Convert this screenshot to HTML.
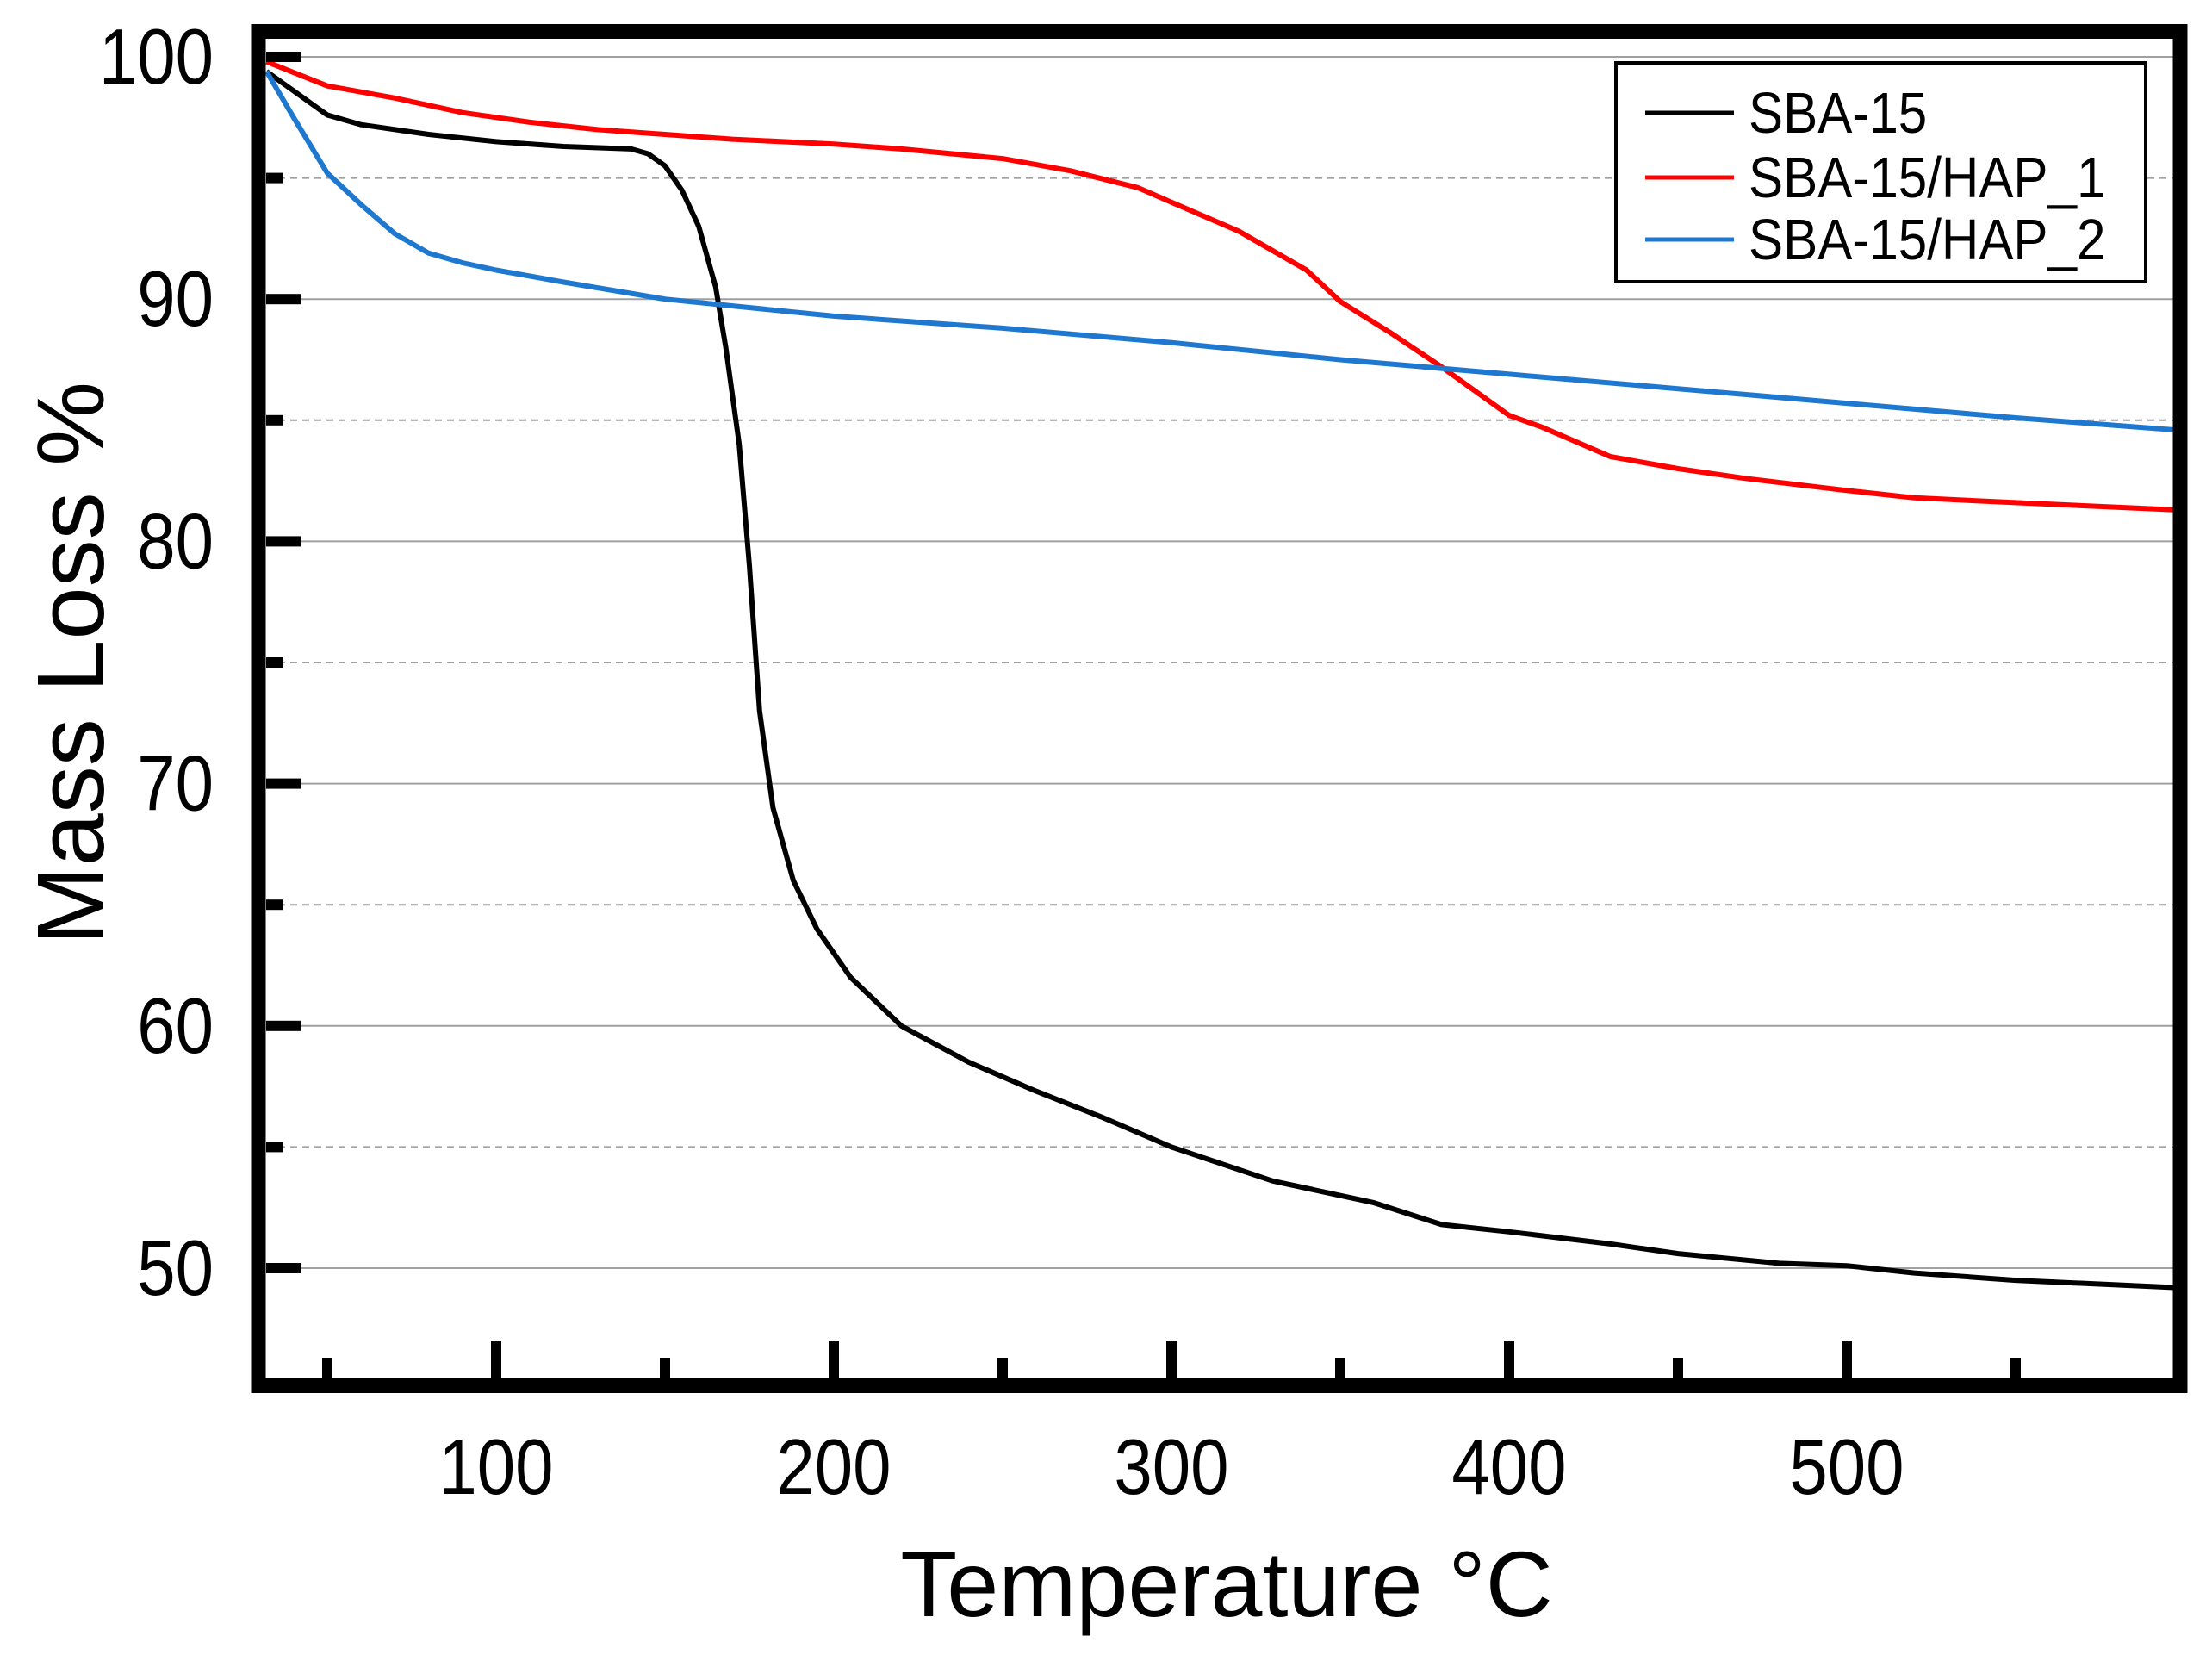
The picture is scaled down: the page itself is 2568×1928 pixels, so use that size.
<!DOCTYPE html>
<html><head><meta charset="utf-8"><style>
html,body{margin:0;padding:0;background:#fff;}
svg{display:block;font-family:"Liberation Sans",Arial,sans-serif;}
</style></head><body>
<svg id="chart" width="2568" height="1928" viewBox="0 0 2568 1928" xmlns="http://www.w3.org/2000/svg">
<g id="grid"></g>
<g id="series"></g>
<g id="axes"></g>
<g id="legend"></g>
</svg>
<script>
const xTicksMajor = [100, 200, 300, 400, 500];
const xTicksMinor = [50, 150, 250, 350, 450, 550];
const yTicksMajor = [50, 60, 70, 80, 90, 100];
const yTicksMinor = [55, 65, 75, 85, 95];
const seriesNames = ["SBA-15", "SBA-15/HAP_1", "SBA-15/HAP_2"];
const seriesColors = ["#000000", "#ff0000", "#1f78d0"];
const sbaT = [32,40,50,60,80,100,120,140,145,150,155,160,165,168,172,175,178,182,188,195,205,220,240,260,280,300,330,360,380,400,430,450,480,500,520,550,597];
const sbaV = [99.4,98.6,97.6,97.2,96.8,96.5,96.3,96.2,96.0,95.5,94.5,93,90.5,88,84,79,73,69,66,64,62,60,58.5,57.3,56.2,55,53.6,52.7,51.8,51.5,51,50.6,50.2,50.1,49.8,49.5,49.2];
const hap1T = [32,50,70,90,110,130,150,170,200,220,250,270,290,300,320,340,350,365,380,400,410,430,450,470,500,520,550,597];
const hap1V = [99.8,98.8,98.3,97.7,97.3,97.0,96.8,96.6,96.4,96.2,95.8,95.3,94.6,94.0,92.8,91.2,89.9,88.6,87.2,85.2,84.7,83.5,83.0,82.6,82.1,81.8,81.6,81.3];
const hap2T = [32,40,50,60,70,80,90,100,120,150,200,250,300,350,400,450,500,550,597];
const hap2V = [99.4,97.5,95.2,93.9,92.7,91.9,91.5,91.2,90.7,90.0,89.3,88.8,88.2,87.5,86.9,86.3,85.7,85.1,84.6];

const NS = "http://www.w3.org/2000/svg";
const L = 309, R = 2523, T = 45, B = 1600;
function xs(t){ return 184 + t * 3.92; }
function ys(v){ return 66 + (100 - v) * 28.12; }
function mk(tag, attrs, parent){ const e = document.createElementNS(NS, tag); for (const k in attrs) e.setAttribute(k, attrs[k]); parent.appendChild(e); return e; }

const grid = document.getElementById('grid');
yTicksMajor.forEach(v => {
  const l = mk('line', {x1:L, x2:R, y1:ys(v), y2:ys(v), stroke:'#a0a0a0', 'stroke-width':2}, grid);
  
  
});
yTicksMinor.forEach(v => {
  const l = mk('line', {x1:L, x2:R, y1:ys(v), y2:ys(v), stroke:'#a0a0a0', 'stroke-width':2, 'stroke-dasharray':'8 6'}, grid);
  
  
});

const sg = document.getElementById('series');
const allT = [sbaT, hap1T, hap2T], allV = [sbaV, hap1V, hap2V];
allT.forEach((ts, i) => {
  const d = ts.map((t, j) => (j ? 'L' : 'M') + xs(t).toFixed(1) + ',' + ys(allV[i][j]).toFixed(1)).join(' ');
  const p = mk('path', {d:d, fill:'none', stroke:seriesColors[i], 'stroke-width':6, 'stroke-linejoin':'round'}, sg);
  
  
});

const ax = document.getElementById('axes');
const fr = mk('rect', {x:300, y:36.5, width:2231, height:1572, fill:'none', stroke:'#000', 'stroke-width':17}, ax);


yTicksMajor.forEach(v => {
  const r = mk('rect', {x:L, y:ys(v)-6, width:40, height:12, fill:'#000'}, ax);
  
  
  const t = mk('text', {x:0, y:0, 'font-size':84, 'text-anchor':'end', fill:'#000', transform:'translate(248,' + (ys(v)+31) + ') scale(0.95,1.08)'}, ax);
  t.textContent = v;
  
  
});
yTicksMinor.forEach(v => {
  const r = mk('rect', {x:L, y:ys(v)-6, width:20, height:12, fill:'#000'}, ax);
  
  
});
xTicksMajor.forEach(v => {
  const r = mk('rect', {x:xs(v)-6, y:B-43, width:12, height:43, fill:'#000'}, ax);
  
  
  const t = mk('text', {x:0, y:0, 'font-size':84, 'text-anchor':'middle', fill:'#000', transform:'translate(' + xs(v) + ',1734) scale(0.95,1.08)'}, ax);
  t.textContent = v;
  
  
});
xTicksMinor.forEach(v => {
  const r = mk('rect', {x:xs(v)-6, y:B-24, width:12, height:24, fill:'#000'}, ax);
  
  
});
const xt = mk('text', {x:1424, y:1876, 'font-size':108, 'text-anchor':'middle', fill:'#000'}, ax);
xt.textContent = 'Temperature \u00B0C';


const yt = mk('text', {x:0, y:0, 'font-size':110, 'text-anchor':'middle', fill:'#000', transform:'translate(120,770) rotate(-90)'}, ax);
yt.textContent = 'Mass Loss %';



const lg = document.getElementById('legend');
const lb = mk('rect', {x:1876, y:73, width:615, height:254, fill:'#fff', stroke:'#000', 'stroke-width':4}, lg);


const ly = [131, 206, 278];
seriesNames.forEach((n, i) => {
  const l = mk('line', {x1:1910, x2:2013, y1:ly[i], y2:ly[i], stroke:seriesColors[i], 'stroke-width':5}, lg);
  
  
  const t = mk('text', {x:0, y:0, 'font-size':62, fill:'#000', transform:'translate(2030,' + (ly[i]+23) + ') scale(0.97,1.08)'}, lg);
  t.textContent = n;
  
  
});
</script>
</body></html>
